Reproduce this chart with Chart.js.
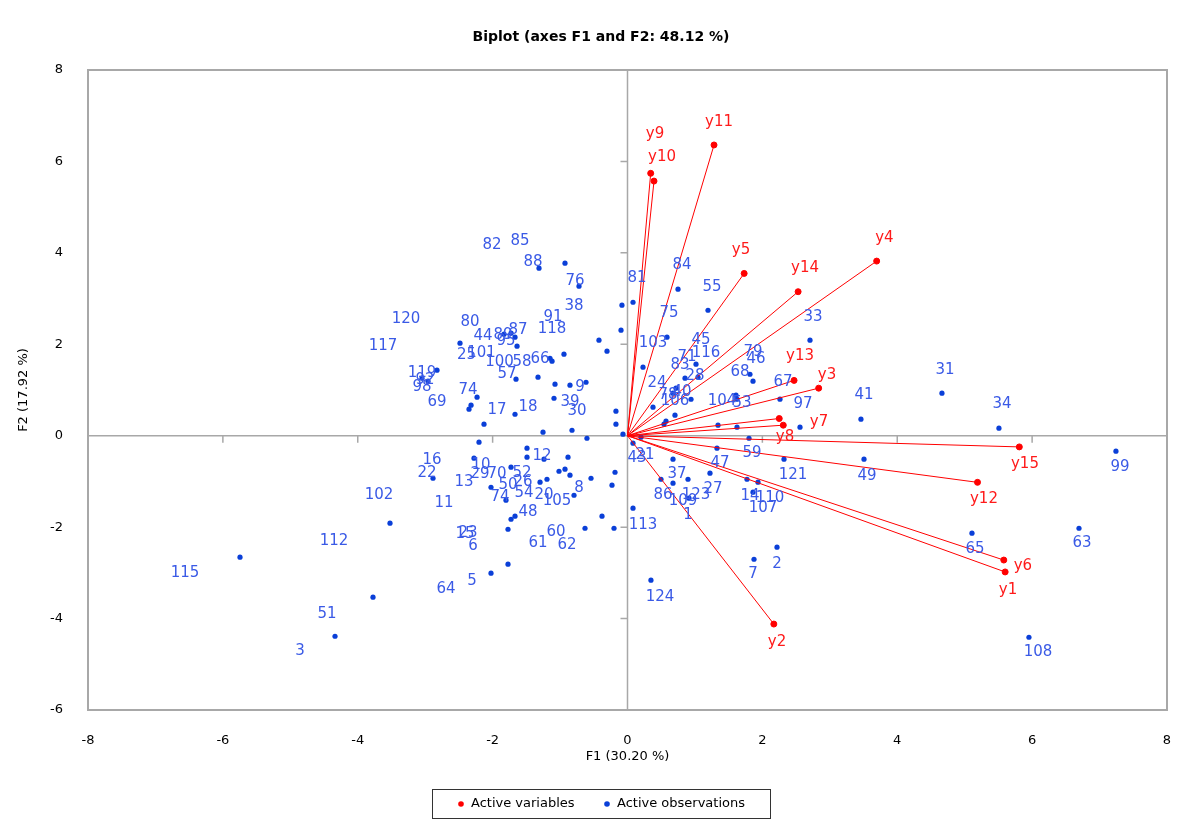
<!DOCTYPE html>
<html>
<head>
<meta charset="utf-8">
<script src="https://cdn.jsdelivr.net/npm/chart.js@4"></script>
<style>
  html, body { margin: 0; padding: 0; background: #fff; }
  #wrap { width: 1181px; height: 825px; }
</style>
</head>
<body>
<div id="wrap"><canvas id="biplot" width="1181" height="825"></canvas></div>
<script>
// observation coordinates (F1, F2)
const obsX = [-0.927, -1.312, -0.719, -0.082, -0.096, -0.423, -0.304, -2.484, -1.638, -1.831,
  -1.727, -1.668, -0.942, -1.119, -1.149, -1.327, -1.653, -1.075, -0.853, -0.615,
  -1.090, -1.668, -2.231, -2.320, -2.350, -2.128, -1.253, -0.823, -0.601, -0.171,
  -0.171, -2.825, -2.958, -3.047, -2.202, -2.276, -1.490, -1.490, -1.238, -0.882,
  -1.727, -1.016, -0.927, -0.853, -0.541, -0.185, -0.230, -1.194, -1.297, -2.024,
  -1.802, -0.793, -2.884, -3.522, -1.727, -1.668, -1.772, -0.630, -0.378, -0.200,
  -1.772, -2.024, -3.774, -5.746, -4.337, 0.082, -0.067, 0.749, 1.194, 0.586,
  0.230, 1.016, 0.853, 1.045, 0.942, 0.719, 0.675, 0.378, 0.704, 0.571,
  0.541, 1.342, 1.624, 1.609, 1.624, 1.816, 1.861, 2.261, 2.558, 2.706,
  3.462, 1.802, 0.200, 0.082, 0.675, 1.327, 2.321, 3.507, 1.223, 0.497,
  0.675, 0.897, 1.772, 1.935, 1.861, 0.912, 0.082, 2.217, 1.876, 0.348,
  7.243, 5.108, 6.695, 5.953, 4.663, 5.508]
const obsY = [3.774, 3.665, 3.271, 2.855, 2.308, 2.090, 1.849, 2.024, 1.958, 2.221,
  2.242, 2.155, 1.783, 1.630, 1.695, 1.280, 1.236, 1.127, 1.105, 1.170,
  0.820, 0.470, 0.842, 0.667, 0.580, 0.252, 0.077, 0.120, -0.055, 0.536,
  0.252, 1.433, 1.192, 1.258, -0.142, -0.492, -0.273, -0.470, -0.514, -0.470,
  -0.689, -0.777, -0.733, -0.864, -0.930, -0.799, -1.083, -0.952, -1.017, -1.127,
  -1.411, -1.302, -0.930, -1.914, -1.827, -1.761, -2.046, -2.024, -1.761, -2.024,
  -2.811, -3.008, -3.533, -2.658, -4.387, 2.920, 0.033, 3.205, 2.745, 2.155,
  1.499, 1.564, 1.258, 1.280, 0.798, 1.039, 0.930, 0.624, 0.449, 0.317,
  0.252, 0.230, 0.186, 0.886, 0.799, 1.345, 1.192, 0.799, 0.186, 2.089,
  0.361, -0.055, -0.033, -0.164, -0.514, -0.273, -0.514, -0.514, -0.820, -0.952,
  -1.039, -0.952, -0.952, -1.017, -1.236, -1.367, -1.586, -2.439, -2.702, -3.161,
  -0.339, -2.133, -2.024, -4.409, 0.930, 0.164]

// observation labels, where they sit in the chart (F1, F2)
const obsLabels = ["82", "85", "88", "76", "38", "91", "118", "120", "80", "44", "89", "87", "95",
  "117", "25", "101", "100", "58", "66", "57", "119", "92", "98", "74", "69", "17", "18",
  "39", "9", "30", "112", "115", "51", "3", "16", "22", "102", "13", "11", "10", "29",
  "70", "52", "50", "26", "54", "74", "20", "105", "8", "12", "48", "23", "15", "6",
  "60", "61", "62", "5", "64", "81", "84", "55", "75", "103", "45", "71", "116", "83",
  "28", "24", "40", "78", "106", "79", "46", "68", "67", "104", "53", "33", "97", "41",
  "43", "21", "59", "47", "121", "49", "37", "86", "109", "123", "27", "1", "14", "110",
  "107", "113", "2", "7", "124", "31", "34", "99", "65", "63", "108"]
const obsLabelX = [-2.009, -1.594, -1.401, -0.778, -0.793, -1.105, -1.119, -3.284, -2.335, -2.142, -1.846, -1.624, -1.802,
  -3.625, -2.387, -2.165, -1.898, -1.564, -1.297, -1.787, -3.047, -3.003, -3.047, -2.364, -2.825, -1.935, -1.475,
  -0.853, -0.704, -0.749, -4.352, -6.561, -4.456, -4.856, -2.899, -2.973, -3.685, -2.424, -2.721, -2.172, -2.187,
  -1.935, -1.564, -1.772, -1.550, -1.535, -1.891, -1.238, -1.045, -0.719, -1.268, -1.475, -2.364, -2.409, -2.291,
  -1.060, -1.327, -0.897, -2.306, -2.691, 0.141, 0.808, 1.253, 0.615, 0.378, 1.090, 0.882, 1.164, 0.778,
  1.001, 0.437, 0.808, 0.601, 0.704, 1.861, 1.905, 1.668, 2.306, 1.401, 1.698, 2.750, 2.602, 3.507,
  0.141, 0.259, 1.846, 1.372, 2.454, 3.551, 0.734, 0.526, 0.823, 1.016, 1.268, 0.897, 1.816, 2.113,
  2.009, 0.230, 2.217, 1.861, 0.482, 4.708, 5.553, 7.303, 5.153, 6.739, 6.087]
const obsLabelY = [4.167, 4.255, 3.796, 3.380, 2.833, 2.593, 2.330, 2.549, 2.483, 2.177, 2.199, 2.308, 2.067,
  1.958, 1.761, 1.805, 1.608, 1.608, 1.674, 1.345, 1.367, 1.214, 1.061, 0.995, 0.733, 0.558, 0.624,
  0.733, 1.061, 0.536, -2.308, -3.008, -3.905, -4.715, -0.536, -0.820, -1.302, -1.017, -1.477, -0.645, -0.842,
  -0.842, -0.820, -1.083, -1.017, -1.258, -1.345, -1.302, -1.433, -1.149, -0.449, -1.674, -2.133, -2.155, -2.417,
  -2.111, -2.352, -2.396, -3.183, -3.358, 3.446, 3.730, 3.249, 2.680, 2.024, 2.089, 1.717, 1.805, 1.542,
  1.301, 1.148, 0.952, 0.886, 0.755, 1.827, 1.674, 1.389, 1.170, 0.755, 0.711, 2.593, 0.689, 0.886,
  -0.492, -0.427, -0.383, -0.602, -0.864, -0.886, -0.842, -1.302, -1.433, -1.302, -1.170, -1.739, -1.324, -1.367,
  -1.586, -1.958, -2.811, -3.030, -3.533, 1.433, 0.689, -0.689, -2.483, -2.352, -4.726]

// active variables (arrow ends) and their label spots
const varNames = ["y1", "y2", "y3", "y4", "y5", "y6", "y7", "y8", "y9", "y10", "y11", "y12", "y13", "y14", "y15"]
const varX = [5.60, 2.17, 2.835, 3.695, 1.73, 5.58, 2.25, 2.31, 0.344, 0.393, 1.283, 5.19, 2.47, 2.53, 5.81]
const varY = [-2.98, -4.12, 1.04, 3.82, 3.55, -2.72, 0.376, 0.23, 5.74, 5.57, 6.36, -1.02, 1.21, 3.15, -0.245]
const varLabelX = [5.642, 2.217, 2.958, 3.810, 1.683, 5.864, 2.840, 2.335, 0.408, 0.512, 1.357, 5.286, 2.558, 2.632, 5.894]
const varLabelY = [-3.380, -4.518, 1.323, 4.321, 4.058, -2.855, 0.295, -0.033, 6.596, 6.093, 6.859, -1.389, 1.739, 3.664, -0.624]

const xTicks = [-8, -6, -4, -2, 0, 2, 4, 6, 8]
const yTicks = [-6, -4, -2, 0, 2, 4, 6, 8]

const RED = "#ff0000"
const BLUE = "#0a3fd8"
const LABEL_BLUE = "#3a5ae6"
const FONT = "'DejaVu Sans', Verdana, sans-serif"

const datasets = varNames.map((name, i) => ({
  label: name,
  data: [{ x: 0, y: 0 }, { x: varX[i], y: varY[i] }],
  showLine: true,
  borderColor: RED,
  borderWidth: 1,
  backgroundColor: RED,
  pointRadius: [0, 3],
  pointHoverRadius: 0,
}))
datasets.push({
  label: "obs",
  data: obsX.map((x, i) => ({ x: x, y: obsY[i] })),
  backgroundColor: BLUE,
  borderColor: BLUE,
  borderWidth: 0,
  pointRadius: 2.6,
})

const biplotDecor = {
  id: "biplotDecor",
  beforeDatasetsDraw(chart) {
    const { ctx, chartArea: a, scales } = chart
    const x0 = scales.x.getPixelForValue(0)
    const y0 = scales.y.getPixelForValue(0)
    ctx.save()
    ctx.strokeStyle = "#a8a8a8"
    ctx.lineWidth = 2
    ctx.strokeRect(a.left, a.top, a.right - a.left, a.bottom - a.top)
    ctx.lineWidth = 1.5
    ctx.beginPath()
    ctx.moveTo(a.left, y0)
    ctx.lineTo(a.right, y0)
    ctx.moveTo(x0, a.top)
    ctx.lineTo(x0, a.bottom)
    // small tick marks on the centre axes
    xTicks.forEach(v => {
      const px = scales.x.getPixelForValue(v)
      ctx.moveTo(px, y0)
      ctx.lineTo(px, y0 + 7)
    })
    yTicks.forEach(v => {
      const py = scales.y.getPixelForValue(v)
      ctx.moveTo(x0 - 7, py)
      ctx.lineTo(x0, py)
    })
    ctx.stroke()
    ctx.restore()
  },
  afterDatasetsDraw(chart) {
    const { ctx, scales } = chart
    ctx.save()
    ctx.font = "15px " + FONT
    ctx.textAlign = "center"
    ctx.textBaseline = "middle"
    ctx.fillStyle = LABEL_BLUE
    obsLabels.forEach((t, i) => {
      ctx.fillText(t, scales.x.getPixelForValue(obsLabelX[i]), scales.y.getPixelForValue(obsLabelY[i]))
    })
    ctx.fillStyle = "#ff1a1a"
    varNames.forEach((t, i) => {
      ctx.fillText(t, scales.x.getPixelForValue(varLabelX[i]), scales.y.getPixelForValue(varLabelY[i]))
    })
    ctx.restore()
  },
  afterDraw(chart) {
    const { ctx, chartArea: a } = chart
    ctx.save()
    ctx.fillStyle = "#000"
    ctx.textAlign = "center"
    ctx.textBaseline = "middle"
    ctx.font = "bold 14px " + FONT
    ctx.fillText("Biplot (axes F1 and F2: 48.12 %)", 601, 37)
    ctx.font = "13px " + FONT
    ctx.fillText("F1 (30.20 %)", (a.left + a.right) / 2, 757)
    ctx.save()
    ctx.translate(24, 390)
    ctx.rotate(-Math.PI / 2)
    ctx.fillText("F2 (17.92 %)", 0, 0)
    ctx.restore()

    // legend box
    ctx.strokeStyle = "#333"
    ctx.lineWidth = 1
    ctx.strokeRect(432.5, 789.5, 338, 29)
    ctx.textAlign = "left"
    ctx.font = "13px " + FONT
    ctx.fillStyle = RED
    ctx.beginPath()
    ctx.arc(461, 804, 2.8, 0, Math.PI * 2)
    ctx.fill()
    ctx.fillStyle = "#000"
    ctx.fillText("Active variables", 471, 804)
    ctx.fillStyle = BLUE
    ctx.beginPath()
    ctx.arc(607, 804, 2.8, 0, Math.PI * 2)
    ctx.fill()
    ctx.fillStyle = "#000"
    ctx.fillText("Active observations", 617, 804)
    ctx.restore()
  },
}

new Chart(document.getElementById("biplot"), {
  type: "scatter",
  data: { datasets: datasets },
  options: {
    responsive: false,
    animation: false,
    layout: { padding: { left: 0, right: 14, top: 70, bottom: 0 } },
    plugins: { legend: { display: false }, title: { display: false }, tooltip: { enabled: false } },
    scales: {
      x: {
        type: "linear",
        min: -8,
        max: 8,
        afterBuildTicks: s => { s.ticks = xTicks.map(v => ({ value: v })) },
        afterFit: s => { s.height = 115; s.paddingLeft = 0; s.paddingRight = 0 },
        grid: { display: false },
        border: { display: false },
        ticks: { color: "#000", padding: 15, font: { family: FONT, size: 13 } },
      },
      y: {
        type: "linear",
        min: -6,
        max: 8,
        afterBuildTicks: s => { s.ticks = yTicks.map(v => ({ value: v })) },
        afterFit: s => { s.width = 88; s.paddingTop = 0; s.paddingBottom = 0 },
        grid: { display: false },
        border: { display: false },
        ticks: { color: "#000", padding: 17, font: { family: FONT, size: 13 } },
      },
    },
  },
  plugins: [biplotDecor],
})
</script>
</body>
</html>
